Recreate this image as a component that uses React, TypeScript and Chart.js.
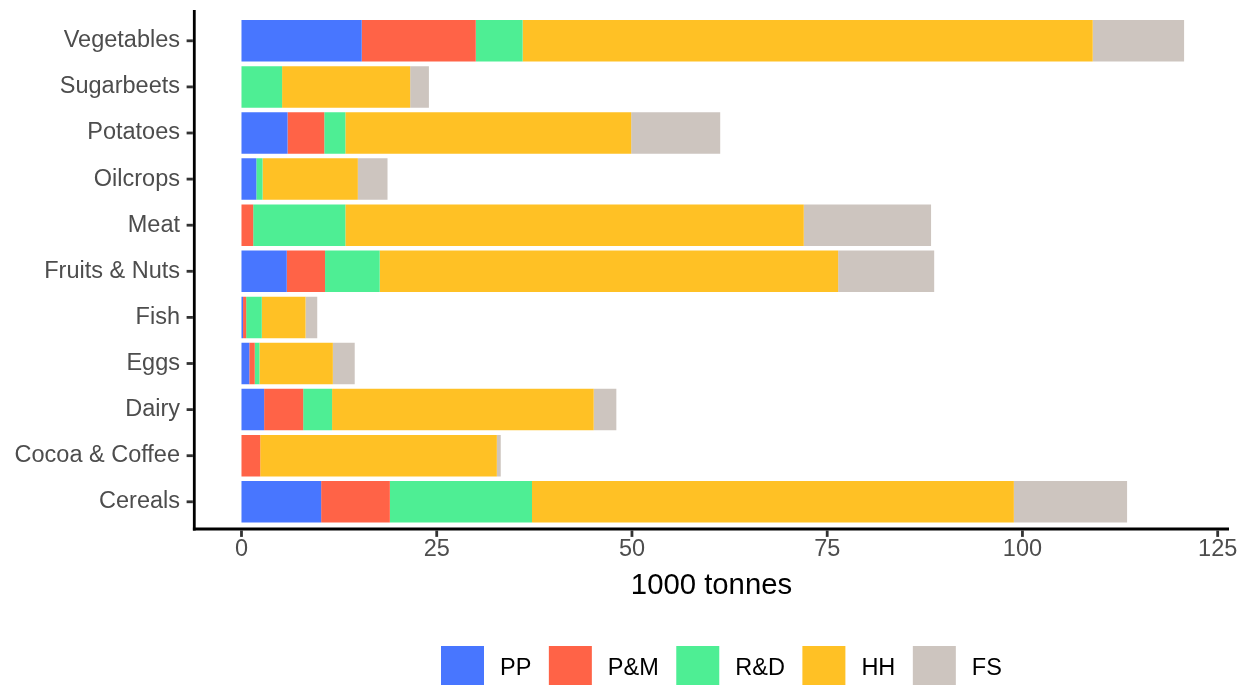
import React, { useEffect, useRef } from "react";
import { Chart, registerables } from "chart.js";

Chart.register(...registerables);

const categories = [
  "Vegetables",
  "Sugarbeets",
  "Potatoes",
  "Oilcrops",
  "Meat",
  "Fruits & Nuts",
  "Fish",
  "Eggs",
  "Dairy",
  "Cocoa & Coffee",
  "Cereals",
];
const seriesNames = ["PP", "P&M", "R&D", "HH", "FS"];
const seriesColors = ["#4876FF", "#FF6347", "#4EEE94", "#FFC125", "#CDC5BF"];
const ppValues = [15.4, 0, 5.9, 1.9, 0, 5.8, 0.2, 1.0, 2.9, 0, 10.2];
const pmValues = [14.6, 0, 4.7, 0, 1.5, 4.9, 0.4, 0.7, 5.0, 2.4, 8.8];
const rdValues = [6.0, 5.2, 2.7, 0.8, 11.8, 7.0, 2.0, 0.6, 3.7, 0, 18.2];
const hhValues = [73.0, 16.4, 36.6, 12.2, 58.7, 58.7, 5.6, 9.4, 33.5, 30.3, 61.7];
const fsValues = [11.7, 2.4, 11.4, 3.8, 16.3, 12.3, 1.5, 2.8, 2.9, 0.5, 14.5];
const seriesValues = [ppValues, pmValues, rdValues, hhValues, fsValues];
const xTicks = [0, 25, 50, 75, 100, 125];
const xTitle = "1000 tonnes";

const FONT = '"Liberation Sans", Arial, Helvetica, sans-serif';
const W = 1246;
const H = 685;

const decorPlugin = {
  id: "decor",
  afterDraw(chart: any) {
    const ctx = chart.ctx as CanvasRenderingContext2D;
    const { left, right } = chart.chartArea;
    const xs = chart.scales.x;
    const ys = chart.scales.y;
    const lw = 2.8;
    const axisY = 529;
    const axisX = 194.3;
    ctx.save();
    const line = (x1: number, y1: number, x2: number, y2: number) => {
      ctx.beginPath();
      ctx.moveTo(x1, y1);
      ctx.lineTo(x2, y2);
      ctx.stroke();
    };
    ctx.lineCap = "butt";
    ctx.lineWidth = lw;
    ctx.strokeStyle = "#000000";
    line(axisX, 10, axisX, axisY + lw / 2);
    line(axisX - lw / 2, axisY, 1229, axisY);
    ctx.strokeStyle = "#333333";
    xTicks.forEach((v) => {
      const px = xs.getPixelForValue(v);
      line(px, axisY + lw / 2, px, axisY + lw / 2 + 6.5);
    });
    categories.forEach((_c, i) => {
      const py = ys.getPixelForValue(i);
      line(axisX - lw / 2 - 6.3, py, axisX - lw / 2, py);
    });
    // axis title
    ctx.fillStyle = "#000000";
    ctx.font = `29.3px ${FONT}`;
    ctx.textAlign = "center";
    ctx.textBaseline = "alphabetic";
    ctx.fillText(xTitle, (left + right) / 2, 594);
    // legend
    ctx.font = `23.5px ${FONT}`;
    ctx.textAlign = "left";
    let x = 441;
    const keySize = 43;
    const keyTop = 646;
    seriesNames.forEach((name, i) => {
      ctx.fillStyle = seriesColors[i];
      ctx.fillRect(x, keyTop, keySize, keySize);
      ctx.fillStyle = "#000000";
      const tx = x + keySize + 16;
      ctx.fillText(name, tx, 675);
      x = tx + ctx.measureText(name).width + 17.5;
    });
    ctx.restore();
  },
};

export default function App() {
  const canvasRef = useRef<HTMLCanvasElement | null>(null);

  useEffect(() => {
    const canvas = canvasRef.current;
    if (!canvas) return;
    const chart = new Chart(canvas, {
      type: "bar",
      data: {
        labels: categories,
        datasets: seriesNames.map((name, i) => ({
          label: name,
          data: seriesValues[i],
          backgroundColor: seriesColors[i],
          borderWidth: 0,
          categoryPercentage: 0.9,
          barPercentage: 1,
        })),
      },
      options: {
        indexAxis: "y",
        responsive: false,
        animation: false,
        devicePixelRatio: 1,
        layout: { padding: { left: 0, right: 17, top: 17.75, bottom: 0 } },
        plugins: {
          legend: { display: false },
          tooltip: { enabled: false },
          title: { display: false },
        },
        scales: {
          x: {
            type: "linear",
            stacked: true,
            min: -6.08,
            max: 126.45,
            grid: { display: false, drawTicks: false, tickLength: 0 },
            border: { display: false },
            ticks: {
              padding: 10.5,
              color: "#4D4D4D",
              font: { family: FONT, size: 23.5 },
              maxRotation: 0,
              autoSkip: false,
            },
            afterBuildTicks: (scale: any) => {
              scale.ticks = xTicks.map((v) => ({ value: v }));
            },
            afterFit: (scale: any) => {
              scale.height = H - 524.85;
              scale.paddingLeft = 0;
              scale.paddingRight = 0;
            },
          },
          y: {
            type: "category",
            stacked: true,
            grid: { display: false, drawTicks: false, tickLength: 0 },
            border: { display: false },
            ticks: {
              padding: 14,
              color: "#4D4D4D",
              font: { family: FONT, size: 23.5 },
              autoSkip: false,
            },
            afterFit: (scale: any) => {
              scale.width = 194;
              scale.paddingTop = 0;
              scale.paddingBottom = 0;
            },
          },
        },
      },
      plugins: [decorPlugin],
    });
    return () => chart.destroy();
  }, []);

  return (
    <div
      style={{
        position: "absolute",
        left: 0,
        top: 0,
        width: W,
        height: H,
        background: "#ffffff",
      }}
    >
      <canvas ref={canvasRef} width={W} height={H} style={{ display: "block" }} />
    </div>
  );
}
